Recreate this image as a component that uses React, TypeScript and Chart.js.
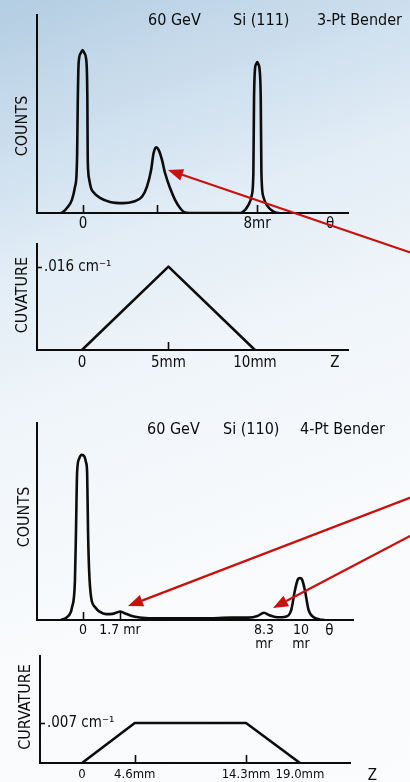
import React, { useEffect, useRef } from 'react';
import { Chart, registerables } from 'chart.js';

Chart.register(...registerables);

// ---------- DATA ----------
// Panel 1: 60 GeV Si(111), 3-pt bender — counts vs theta (mr)
const theta111 = [-1.0, -0.92, -0.74, -0.51, -0.37, -0.3, -0.27, -0.24, -0.2, -0.1, -0.02, 0.06, 0.16, 0.2, 0.215, 0.24, 0.29, 0.37, 0.47, 0.78, 1.24, 1.84, 2.3, 2.71, 2.94, 3.13, 3.24, 3.36, 3.49, 3.63, 3.77, 4.0, 4.23, 4.46, 4.69, 4.9, 7.2, 7.3, 7.6, 7.76, 7.83, 7.86, 7.9, 7.96, 8.01, 8.06, 8.12, 8.17, 8.2, 8.29, 8.45, 8.75, 8.9, 9.0];
const counts111 = [0, 0.005, 0.025, 0.066, 0.131, 0.19, 0.3, 0.571, 0.76, 0.808, 0.823, 0.808, 0.76, 0.571, 0.3, 0.21, 0.167, 0.126, 0.106, 0.076, 0.056, 0.05, 0.057, 0.082, 0.133, 0.217, 0.3, 0.332, 0.315, 0.268, 0.202, 0.126, 0.066, 0.025, 0.002, 0, 0, 0.002, 0.04, 0.091, 0.202, 0.571, 0.72, 0.752, 0.762, 0.752, 0.72, 0.571, 0.202, 0.082, 0.04, 0.007, 0.001, 0];
const thetaTicks111 = [0, 3.4, 8];
const thetaLabels111 = ['0', '', '8mr'];

// Panel 2: curvature vs Z (mm), 3-pt bender
const z111 = [0, 5, 10];
const curv111 = [0, 0.016, 0];
const zTicks111 = [0, 5, 10];
const zLabels111 = ['0', '5mm', '10mm'];
const curvTicks111 = [0.016];
const curvLabels111 = ['.016 cm⁻¹'];

// Panel 3: 60 GeV Si(110), 4-pt bender — counts vs theta (mr)
const theta110 = [-1.0, -0.73, -0.5, -0.37, -0.32, -0.27, -0.18, -0.06, 0.06, 0.14, 0.19, 0.23, 0.28, 0.37, 0.55, 0.78, 1.06, 1.35, 1.55, 1.7, 1.88, 2.2, 2.6, 3.2, 4.5, 5.8, 6.8, 7.6, 8.0, 8.3, 8.55, 8.9, 9.3, 9.55, 9.72, 9.85, 9.95, 10.05, 10.18, 10.35, 10.6, 10.85, 11.05];
const counts110 = [0, 0.015, 0.066, 0.2, 0.46, 0.75, 0.818, 0.838, 0.83, 0.8, 0.746, 0.457, 0.254, 0.117, 0.066, 0.041, 0.03, 0.031, 0.038, 0.043, 0.036, 0.022, 0.013, 0.009, 0.008, 0.009, 0.012, 0.012, 0.02, 0.037, 0.024, 0.014, 0.017, 0.05, 0.15, 0.205, 0.213, 0.205, 0.15, 0.05, 0.013, 0.003, 0];
const thetaTicks110 = [0, 1.7, 8.3, 10];
const thetaLabels110: (string | string[])[] = ['0', '1.7 mr', ['8.3', 'mr'], ['10', 'mr']];

// Panel 4: curvature vs Z (mm), 4-pt bender
const z110 = [0, 4.6, 14.3, 19.0];
const curv110 = [0, 0.007, 0.007, 0];
const zTicks110 = [0, 4.6, 14.3, 19.0];
const zLabels110 = ['0', '4.6mm', '14.3mm', '19.0mm'];
const curvTicks110 = [0.007];
const curvLabels110 = ['.007 cm⁻¹'];

// ---------- STYLE ----------
const FAMILY = "'DejaVu Sans Condensed', 'DejaVu Sans', sans-serif";
const INK = '#0c0c0c';
const RED = '#c8100e';
const W = 410;

const decoPlugin = {
  id: 'deco',
  afterDraw(chart: any, _args: any, opts: any) {
    const ctx = chart.ctx;
    const xs = chart.scales.x;
    const ys = chart.scales.y;
    const area = chart.chartArea;
    const off = opts.offsetTop || 0;
    ctx.save();
    // inward tick marks
    ctx.strokeStyle = INK;
    ctx.lineWidth = 1.6;
    (opts.xTickMarks || []).forEach((v: number) => {
      const px = Math.round(xs.getPixelForValue(v)) + 0.5;
      ctx.beginPath();
      ctx.moveTo(px, area.bottom + 1);
      ctx.lineTo(px, area.bottom - 8);
      ctx.stroke();
    });
    (opts.yTickMarks || []).forEach((v: number) => {
      const py = Math.round(ys.getPixelForValue(v)) + 0.5;
      ctx.beginPath();
      ctx.moveTo(area.left, py);
      ctx.lineTo(area.left + 5, py);
      ctx.stroke();
    });
    // axis symbol (θ / Z)
    if (opts.symbol) {
      ctx.fillStyle = INK;
      ctx.font = `${opts.symbol.size}px ${FAMILY}`;
      ctx.textAlign = 'center';
      ctx.textBaseline = 'middle';
      ctx.fillText(opts.symbol.text, xs.getPixelForValue(opts.symbol.value), area.bottom + opts.symbol.dy);
    }
    // free texts (page coordinates)
    (opts.texts || []).forEach((t: any) => {
      ctx.save();
      ctx.fillStyle = INK;
      ctx.font = `${t.weight || 'normal'} ${t.size}px ${FAMILY}`;
      ctx.textAlign = t.align || 'left';
      ctx.textBaseline = t.baseline || 'alphabetic';
      ctx.translate(t.x, t.y - off);
      if (t.rotate) ctx.rotate(t.rotate);
      ctx.fillText(t.text, 0, 0);
      ctx.restore();
    });
    // red arrows (page coordinates)
    (opts.arrows || []).forEach((a: any) => {
      const x1 = a.from[0], y1 = a.from[1] - off, x2 = a.to[0], y2 = a.to[1] - off;
      const ang = Math.atan2(y2 - y1, x2 - x1);
      const headL = 15, headW = 6;
      const bx = x2 - headL * Math.cos(ang), by = y2 - headL * Math.sin(ang);
      ctx.strokeStyle = RED;
      ctx.fillStyle = RED;
      ctx.lineWidth = 2.2;
      ctx.beginPath();
      ctx.moveTo(x1, y1);
      ctx.lineTo(bx, by);
      ctx.stroke();
      ctx.beginPath();
      ctx.moveTo(x2, y2);
      ctx.lineTo(bx + headW * Math.sin(ang), by - headW * Math.cos(ang));
      ctx.lineTo(bx - headW * Math.sin(ang), by + headW * Math.cos(ang));
      ctx.closePath();
      ctx.fill();
    });
    ctx.restore();
  },
};

type PanelCfg = {
  top: number;
  h: number;
  area: { left: number; top: number; right: number; bottom: number };
  xs: number[];
  ys: number[];
  smooth: boolean;
  xMin: number;
  xMax: number;
  yMax: number;
  xTicks: number[];
  xLabels: (string | string[])[];
  xFont: { size: number; lineHeight: number };
  xPad: number;
  yTicks?: number[];
  yLabels?: string[];
  deco: any;
};

function buildConfig(c: PanelCfg): any {
  return {
    type: 'line',
    data: {
      datasets: [
        {
          data: c.xs.map((x, i) => ({ x, y: c.ys[i] })),
          borderColor: INK,
          borderWidth: 2.6,
          pointRadius: 0,
          fill: false,
          tension: 0,
          cubicInterpolationMode: c.smooth ? 'monotone' : 'default',
          borderJoinStyle: 'round',
          borderCapStyle: 'round',
        },
      ],
    },
    options: {
      responsive: false,
      animation: false,
      events: [],
      layout: {
        autoPadding: false,
        padding: { left: 0, top: c.area.top, right: W - c.area.right, bottom: 0 },
      },
      scales: {
        x: {
          type: 'linear',
          min: c.xMin,
          max: c.xMax,
          afterFit: (s: any) => {
            s.height = c.h - c.area.bottom;
          },
          afterBuildTicks: (s: any) => {
            s.ticks = c.xTicks.map((v) => ({ value: v }));
          },
          ticks: {
            autoSkip: false,
            maxRotation: 0,
            minRotation: 0,
            padding: c.xPad,
            color: INK,
            font: { family: FAMILY, size: c.xFont.size, lineHeight: c.xFont.lineHeight },
            callback: (_v: any, i: number) => c.xLabels[i],
          },
          grid: { display: false, drawTicks: false },
          border: { display: true, color: INK, width: 2 },
        },
        y: {
          type: 'linear',
          min: 0,
          max: c.yMax,
          afterFit: (s: any) => {
            s.width = c.area.left;
          },
          afterBuildTicks: (s: any) => {
            s.ticks = (c.yTicks || []).map((v) => ({ value: v }));
          },
          ticks: {
            display: !!c.yTicks,
            mirror: true,
            padding: 7,
            color: INK,
            font: { family: FAMILY, size: 15 },
            callback: (_v: any, i: number) => (c.yLabels ? c.yLabels[i] : ''),
          },
          grid: { display: false, drawTicks: false },
          border: { display: true, color: INK, width: 2 },
        },
      },
      plugins: {
        legend: { display: false },
        tooltip: { enabled: false },
        title: { display: false },
        deco: { ...c.deco, offsetTop: c.top },
      },
    },
    plugins: [decoPlugin],
  };
}

const ROT = -Math.PI / 2;

const panels: PanelCfg[] = [
  {
    top: 0,
    h: 262,
    area: { left: 37, top: 15, right: 348, bottom: 213 },
    xs: theta111,
    ys: counts111,
    smooth: true,
    xMin: -2.115,
    xMax: 12.18,
    yMax: 1,
    xTicks: thetaTicks111,
    xLabels: thetaLabels111,
    xFont: { size: 15, lineHeight: 1.2 },
    xPad: 2,
    deco: {
      xTickMarks: thetaTicks111,
      symbol: { text: 'θ', value: 11.36, size: 15, dy: 11 },
      texts: [
        { text: '60 GeV', x: 148, y: 25, size: 16 },
        { text: 'Si (111)', x: 233, y: 25, size: 16 },
        { text: '3-Pt Bender', x: 317, y: 25, size: 16 },
        { text: 'COUNTS', x: 27, y: 126, size: 16, align: 'center', rotate: ROT },
      ],
      arrows: [{ from: [412, 253], to: [168, 170] }],
    },
  },
  {
    top: 228,
    h: 172,
    area: { left: 37, top: 5, right: 348, bottom: 122 },
    xs: z111,
    ys: curv111,
    smooth: false,
    xMin: -2.6,
    xMax: 15.38,
    yMax: 0.02035,
    xTicks: zTicks111,
    xLabels: zLabels111,
    xFont: { size: 15, lineHeight: 1.2 },
    xPad: 4,
    yTicks: curvTicks111,
    yLabels: curvLabels111,
    deco: {
      xTickMarks: [5],
      yTickMarks: curvTicks111,
      symbol: { text: 'Z', value: 14.62, size: 15, dy: 13 },
      texts: [{ text: 'CUVATURE', x: 27, y: 295, size: 16, align: 'center', rotate: ROT }],
      arrows: [],
    },
  },
  {
    top: 400,
    h: 255,
    area: { left: 37, top: 23, right: 353, bottom: 220 },
    xs: theta110,
    ys: counts110,
    smooth: true,
    xMin: -2.11,
    xMax: 12.385,
    yMax: 1,
    xTicks: thetaTicks110,
    xLabels: thetaLabels110,
    xFont: { size: 14, lineHeight: 1 },
    xPad: 3,
    deco: {
      xTickMarks: [0, 1.7],
      symbol: { text: 'θ', value: 11.3, size: 15, dy: 11 },
      texts: [
        { text: '60 GeV', x: 147, y: 434, size: 16 },
        { text: 'Si (110)', x: 223, y: 434, size: 16 },
        { text: '4-Pt Bender', x: 300, y: 434, size: 16 },
        { text: 'COUNTS', x: 29, y: 517, size: 16, align: 'center', rotate: ROT },
      ],
      arrows: [
        { from: [412, 497], to: [128, 606] },
        { from: [412, 535], to: [273, 608] },
      ],
    },
  },
  {
    top: 640,
    h: 142,
    area: { left: 40, top: 8, right: 350, bottom: 123 },
    xs: z110,
    ys: curv110,
    smooth: false,
    xMin: -3.66,
    xMax: 23.36,
    yMax: 0.0187,
    xTicks: zTicks110,
    xLabels: zLabels110,
    xFont: { size: 13, lineHeight: 1.2 },
    xPad: 4,
    yTicks: curvTicks110,
    yLabels: curvLabels110,
    deco: {
      xTickMarks: [4.6, 14.3],
      yTickMarks: curvTicks110,
      symbol: { text: 'Z', value: 25.3, size: 15, dy: 13 },
      texts: [{ text: 'CURVATURE', x: 30, y: 707, size: 16, align: 'center', rotate: ROT }],
      arrows: [],
    },
  },
];

function Panel({ cfg }: { cfg: PanelCfg }) {
  const ref = useRef<HTMLCanvasElement | null>(null);
  useEffect(() => {
    if (!ref.current) return;
    const chart = new Chart(ref.current, buildConfig(cfg));
    return () => chart.destroy();
  }, [cfg]);
  return (
    <canvas
      ref={ref}
      width={W}
      height={cfg.h}
      style={{ position: 'absolute', left: 0, top: cfg.top, width: W, height: cfg.h }}
    />
  );
}

export default function App() {
  return (
    <div
      style={{
        position: 'fixed',
        left: 0,
        top: 0,
        width: W,
        height: 782,
        overflow: 'hidden',
        background:
          'linear-gradient(160deg, #b3cde2 0%, #c9dcec 14%, #e2edf6 30%, #f1f6fa 48%, #f8fafc 70%, #fbfcfd 100%)',
      }}
    >
      {panels.map((p, i) => (
        <Panel key={i} cfg={p} />
      ))}
    </div>
  );
}
